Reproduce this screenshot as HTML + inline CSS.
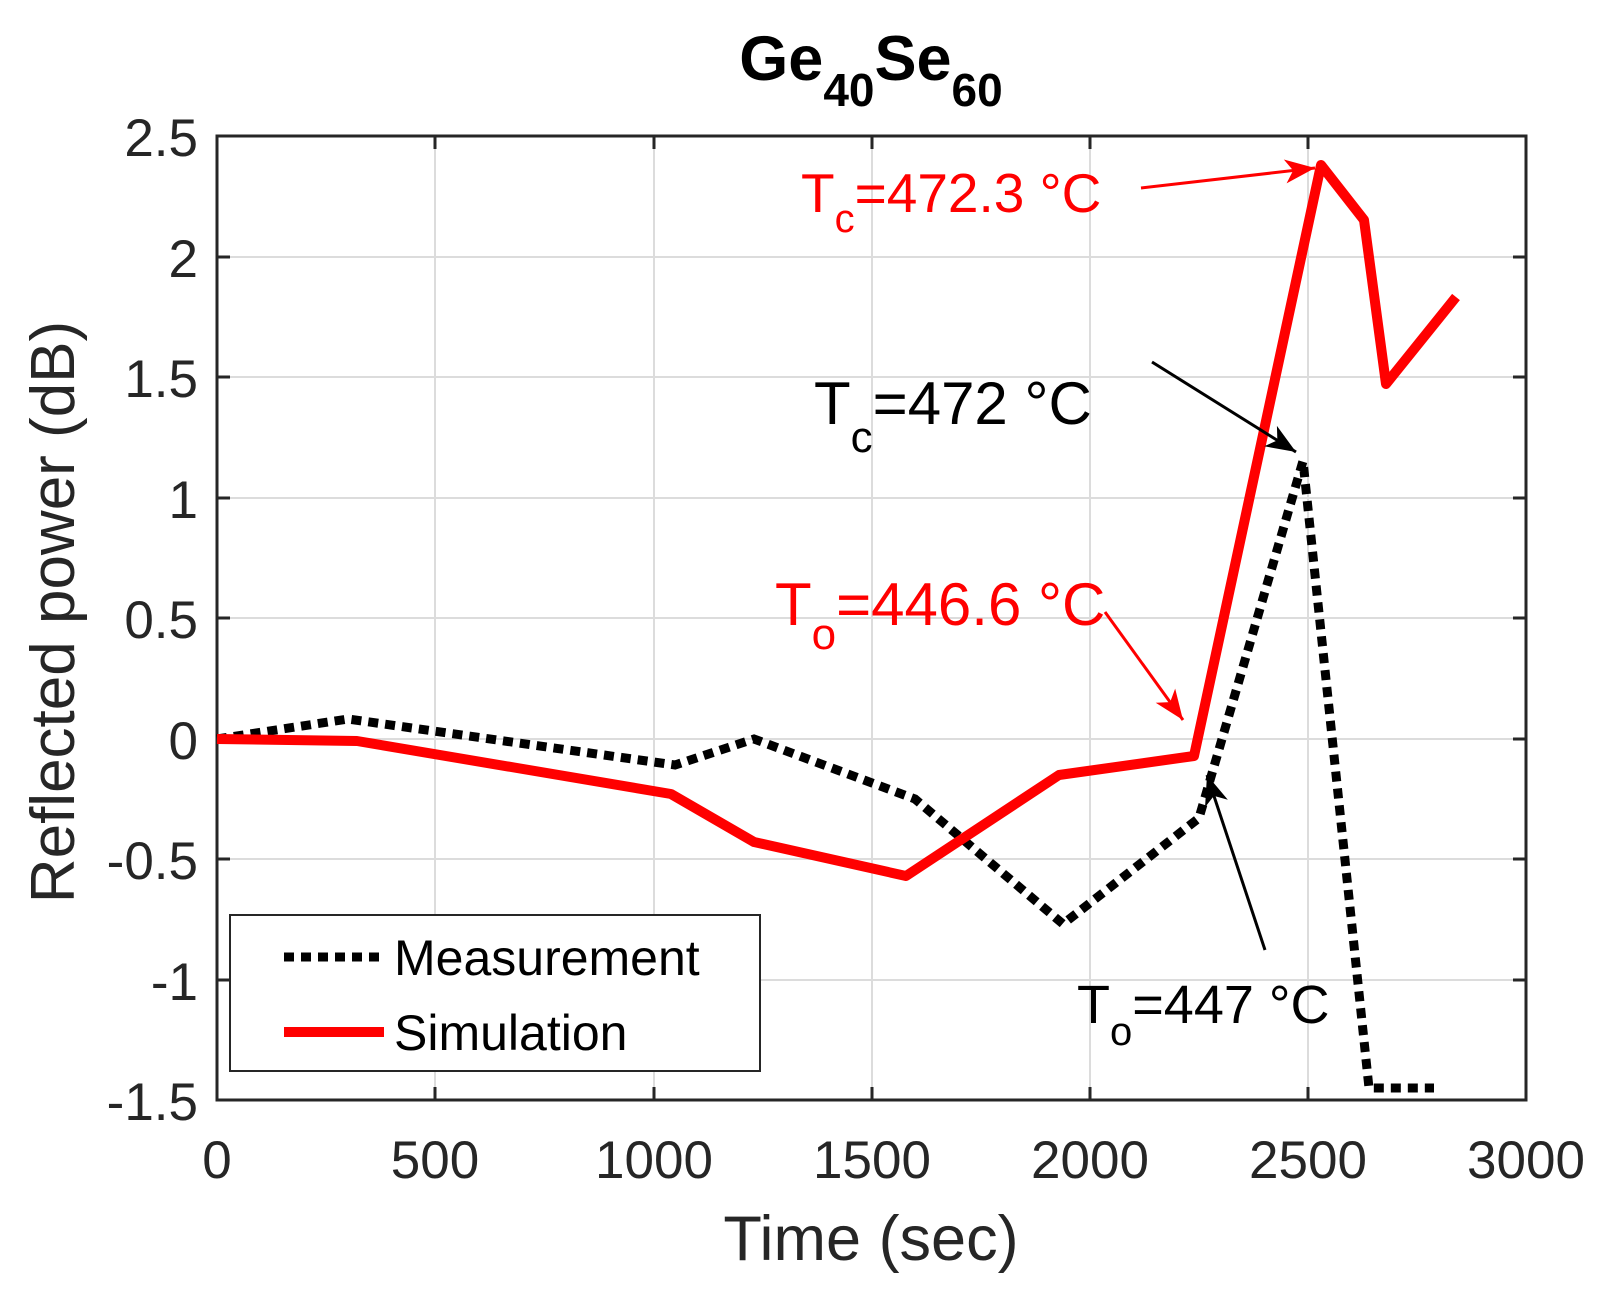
<!DOCTYPE html>
<html><head><style>body{margin:0;background:#fff}svg{display:block}</style></head><body>
<svg width="1619" height="1306" xmlns="http://www.w3.org/2000/svg" font-family="Liberation Sans, sans-serif">
<defs>
<marker id="ar" markerWidth="34" markerHeight="28" refX="32" refY="14" orient="auto" markerUnits="userSpaceOnUse"><path d="M2,2 L32,14 L2,26 L10,14 Z" fill="#f00"/></marker>
<marker id="ak" markerWidth="34" markerHeight="28" refX="32" refY="14" orient="auto" markerUnits="userSpaceOnUse"><path d="M2,2 L32,14 L2,26 L10,14 Z" fill="#000"/></marker>
</defs>
<g stroke="#dcdcdc" stroke-width="2">
<line x1="435" y1="136" x2="435" y2="1100"/><line x1="654" y1="136" x2="654" y2="1100"/><line x1="872" y1="136" x2="872" y2="1100"/><line x1="1090" y1="136" x2="1090" y2="1100"/><line x1="1308" y1="136" x2="1308" y2="1100"/>
<line x1="217" y1="257" x2="1526" y2="257"/><line x1="217" y1="377" x2="1526" y2="377"/><line x1="217" y1="498" x2="1526" y2="498"/><line x1="217" y1="618" x2="1526" y2="618"/><line x1="217" y1="739" x2="1526" y2="739"/><line x1="217" y1="859" x2="1526" y2="859"/><line x1="217" y1="980" x2="1526" y2="980"/>
</g>
<rect x="217" y="136" width="1309" height="964" fill="none" stroke="#262626" stroke-width="3"/>
<g stroke="#262626" stroke-width="3">
<path d="M435,1100v-13M654,1100v-13M872,1100v-13M1090,1100v-13M1308,1100v-13M435,136v13M654,136v13M872,136v13M1090,136v13M1308,136v13"/>
<path d="M217,257h13M217,377h13M217,498h13M217,618h13M217,739h13M217,859h13M217,980h13M1526,257h-13M1526,377h-13M1526,498h-13M1526,618h-13M1526,739h-13M1526,859h-13M1526,980h-13"/>
</g>
<g font-size="53" fill="#262626" text-anchor="end">
<text x="198" y="156">2.5</text><text x="198" y="277">2</text><text x="198" y="397">1.5</text><text x="198" y="518">1</text><text x="198" y="638">0.5</text><text x="198" y="759">0</text><text x="198" y="879">-0.5</text><text x="198" y="1000">-1</text><text x="198" y="1120">-1.5</text>
</g>
<g font-size="53" fill="#262626" text-anchor="middle">
<text x="217" y="1178">0</text><text x="435" y="1178">500</text><text x="654" y="1178">1000</text><text x="872" y="1178">1500</text><text x="1090" y="1178">2000</text><text x="1308" y="1178">2500</text><text x="1526" y="1178">3000</text>
<text x="871" y="1260" font-size="63">Time (sec)</text>
<text transform="translate(74,612) rotate(-90)" font-size="62">Reflected power (dB)</text>
</g>
<text x="871" y="80" font-size="63" font-weight="bold" text-anchor="middle" fill="#000">Ge<tspan font-size="46" dy="26">40</tspan><tspan dy="-26">Se</tspan><tspan font-size="46" dy="26">60</tspan></text>
<polyline fill="none" stroke="#000" stroke-width="9" stroke-dasharray="10,7" points="217,739 348,719 675,765 754,739 915,799 1063,924 1199,818 1303,461 1369,1088 1434,1088"/>
<polyline fill="none" stroke="#f00" stroke-width="10" stroke-linejoin="round" points="217,739 357,741 671,794 754,842 906,876 1059,775 1194,756 1321,165 1364,220 1386,384 1456,297"/>
<line x1="1141" y1="188" x2="1315" y2="168" stroke="#f00" stroke-width="3" marker-end="url(#ar)"/>
<line x1="1105" y1="612" x2="1183" y2="720" stroke="#f00" stroke-width="3" marker-end="url(#ar)"/>
<line x1="1152" y1="362" x2="1296" y2="452" stroke="#000" stroke-width="3" marker-end="url(#ak)"/>
<line x1="1265" y1="950" x2="1207" y2="775" stroke="#000" stroke-width="3" marker-end="url(#ak)"/>
<text x="801" y="212" fill="#f00" font-size="55">T<tspan font-size="40" dy="20">c</tspan><tspan dy="-20">=472.3 °C</tspan></text>
<text x="775" y="625" fill="#f00" font-size="60">T<tspan font-size="44" dy="24">o</tspan><tspan dy="-24">=446.6 °C</tspan></text>
<text x="814" y="424" fill="#000" font-size="60">T<tspan font-size="44" dy="28">c</tspan><tspan dy="-28">=472 °C</tspan></text>
<text x="1077" y="1023" fill="#000" font-size="54">T<tspan font-size="40" dy="22">o</tspan><tspan dy="-22">=447 °C</tspan></text>
<rect x="230" y="915" width="530" height="156" fill="#fff" stroke="#262626" stroke-width="2"/>
<line x1="284" y1="957" x2="384" y2="957" stroke="#000" stroke-width="9" stroke-dasharray="10,7"/>
<line x1="284" y1="1032" x2="384" y2="1032" stroke="#f00" stroke-width="10"/>
<text x="394" y="975" font-size="50" fill="#000">Measurement</text>
<text x="394" y="1050" font-size="50" fill="#000">Simulation</text>
</svg>
</body></html>
